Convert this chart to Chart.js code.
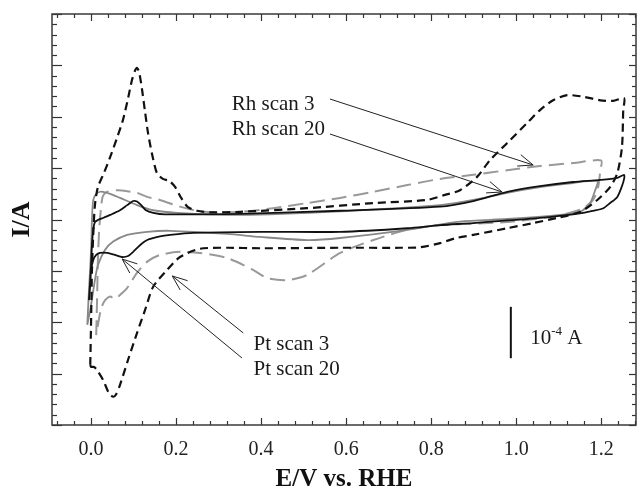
<!DOCTYPE html>
<html><head><meta charset="utf-8">
<script src="https://cdn.jsdelivr.net/npm/chart.js@4/dist/chart.umd.min.js"></script>
<style>html,body{margin:0;padding:0;background:#fff;}#wrap{width:638px;height:492px;}</style>
</head><body><div id="wrap"><canvas id="c" width="638" height="492"></canvas></div>
<script>
// E / V vs. RHE, I in units of 1e-4 A
const ptScan3 = [[-0.002,-2.83],[0.000,-1.96],[0.002,-0.98],[0.005,-0.30],[0.009,0.28],[0.016,0.63],[0.031,0.92],[0.045,1.22],[0.061,1.59],[0.075,1.94],[0.087,2.36],[0.096,2.71],[0.104,2.91],[0.108,2.95],[0.113,2.87],[0.120,2.52],[0.127,2.09],[0.134,1.68],[0.144,1.25],[0.155,0.90],[0.169,0.79],[0.184,0.75],[0.198,0.63],[0.212,0.42],[0.228,0.24],[0.249,0.17],[0.28,0.14],[0.351,0.15],[0.508,0.22],[0.664,0.32],[0.79,0.38],[0.833,0.48],[0.868,0.57],[0.908,0.83],[0.939,1.16],[0.979,1.49],[1.026,1.88],[1.056,2.13],[1.087,2.32],[1.12,2.42],[1.158,2.39],[1.198,2.32],[1.228,2.31],[1.254,2.36],[1.252,2.13],[1.249,1.41],[1.238,0.90],[1.221,0.63],[1.191,0.38],[1.151,0.15],[1.096,0.03],[1.04,-0.07],[0.979,-0.17],[0.899,-0.30],[0.859,-0.36],[0.821,-0.46],[0.774,-0.54],[0.727,-0.55],[0.586,-0.55],[0.398,-0.56],[0.32,-0.55],[0.256,-0.57],[0.209,-0.73],[0.179,-0.98],[0.146,-1.31],[0.127,-1.76],[0.108,-2.21],[0.087,-2.73],[0.068,-3.22],[0.059,-3.40],[0.052,-3.45],[0.042,-3.38],[0.028,-3.12],[0.014,-2.93],[0.007,-2.87],[0.000,-2.87],[-0.002,-2.83]];
const ptScan20 = [[-0.005,-1.57],[-0.002,-1.18],[0.000,-0.89],[0.002,-0.50],[0.005,-0.20],[0.009,-0.05],[0.016,-0.01],[0.028,0.03],[0.045,0.09],[0.068,0.18],[0.085,0.28],[0.099,0.36],[0.108,0.35],[0.118,0.28],[0.129,0.18],[0.146,0.13],[0.174,0.10],[0.351,0.11],[0.586,0.17],[0.821,0.25],[0.899,0.36],[0.979,0.54],[1.056,0.65],[1.134,0.73],[1.198,0.77],[1.238,0.81],[1.254,0.87],[1.254,0.79],[1.249,0.65],[1.238,0.44],[1.221,0.32],[1.205,0.22],[1.181,0.17],[1.158,0.13],[1.056,0.03],[0.899,-0.07],[0.821,-0.11],[0.744,-0.17],[0.586,-0.24],[0.398,-0.24],[0.24,-0.26],[0.186,-0.30],[0.162,-0.33],[0.132,-0.40],[0.115,-0.50],[0.099,-0.63],[0.087,-0.71],[0.073,-0.73],[0.056,-0.69],[0.038,-0.65],[0.021,-0.65],[0.012,-0.69],[0.005,-0.79],[0.000,-0.98],[-0.002,-1.27],[-0.005,-1.57]];
const rhScan3 = [[0.012,-2.25],[0.014,-1.57],[0.016,-0.79],[0.019,-0.20],[0.024,0.28],[0.028,0.46],[0.038,0.54],[0.064,0.57],[0.092,0.54],[0.108,0.52],[0.132,0.44],[0.162,0.38],[0.209,0.25],[0.264,0.15],[0.351,0.15],[0.428,0.22],[0.508,0.32],[0.586,0.42],[0.664,0.54],[0.744,0.67],[0.821,0.79],[0.899,0.87],[0.979,0.96],[1.056,1.04],[1.134,1.10],[1.2,1.15],[1.198,0.96],[1.193,0.63],[1.181,0.38],[1.158,0.22],[1.127,0.13],[1.08,0.05],[0.979,-0.05],[0.821,-0.11],[0.744,-0.20],[0.664,-0.40],[0.586,-0.65],[0.508,-1.08],[0.461,-1.18],[0.414,-1.14],[0.381,-0.98],[0.32,-0.75],[0.256,-0.65],[0.209,-0.63],[0.162,-0.69],[0.132,-0.82],[0.108,-1.04],[0.085,-1.33],[0.068,-1.47],[0.056,-1.55],[0.045,-1.50],[0.033,-1.57],[0.024,-1.72],[0.016,-2.05],[0.012,-2.25]];
const rhScan20 = [[-0.009,-2.05],[-0.005,-1.37],[0.000,-0.59],[0.002,-0.01],[0.005,0.38],[0.012,0.50],[0.021,0.54],[0.028,0.54],[0.045,0.50],[0.068,0.42],[0.108,0.28],[0.146,0.18],[0.202,0.13],[0.351,0.09],[0.586,0.16],[0.821,0.28],[0.899,0.38],[0.979,0.52],[1.056,0.63],[1.134,0.71],[1.191,0.75],[1.186,0.57],[1.174,0.32],[1.151,0.15],[1.104,0.09],[0.979,0.01],[0.868,-0.04],[0.744,-0.20],[0.586,-0.36],[0.508,-0.40],[0.398,-0.34],[0.32,-0.28],[0.186,-0.22],[0.132,-0.24],[0.085,-0.30],[0.052,-0.43],[0.033,-0.59],[0.016,-0.89],[0.009,-1.18],[-0.002,-1.76],[-0.009,-2.05]];
const xTickValues = [0.0,0.2,0.4,0.6,0.8,1.0,1.2];
const xRange = [-0.092, 1.282];
const yRange = [-4, 4];

const SERIF = "'Liberation Serif','Times New Roman',serif";
const toXY = arr => arr.map(p => ({x:p[0], y:p[1]}));

// annotation placement in data coordinates
const notes = [
  {text:'Rh scan 3', x:0.331, y:2.13},
  {text:'Rh scan 20', x:0.331, y:1.645},
  {text:'Pt scan 3', x:0.382, y:-2.54},
  {text:'Pt scan 20', x:0.382, y:-3.027}
];
const arrows = [
  {from:[0.562,2.345], to:[1.04,1.061]},
  {from:[0.562,1.664], to:[0.967,0.535]},
  {from:[0.358,-2.209], to:[0.191,-1.10]},
  {from:[0.355,-2.696], to:[0.073,-0.769]}
];

const decor = {
  id:'decor',
  afterDatasetsDraw(chart){
    const {ctx, chartArea:a, scales:{x, y}} = chart;
    ctx.save();
    ctx.strokeStyle = '#333';
    ctx.lineWidth = 1.2;
    const seg = (x1,y1,x2,y2)=>{ctx.beginPath();ctx.moveTo(x1,y1);ctx.lineTo(x2,y2);ctx.stroke();};
    for (let k=-3; k<=33; k++){
      const v = k*0.04;
      if (v < xRange[0] || v > xRange[1]+1e-9) continue;
      const p = Math.round(x.getPixelForValue(v))+0.5;
      const L = (k%5===0) ? 7 : 4;
      seg(p, a.bottom, p, a.bottom-L);
      seg(p, a.top, p, a.top+L);
    }
    for (let k=-20; k<=20; k++){
      const v = k*0.2;
      const p = Math.round(y.getPixelForValue(v))+0.5;
      const major = (k%5===0);
      seg(a.left, p, a.left+(major?10:5), p);
      seg(a.right, p, a.right-(major?7:4), p);
    }
    ctx.lineWidth = 1.5;
    ctx.strokeStyle = '#3a3a3a';
    ctx.strokeRect(a.left, a.top, a.right-a.left, a.bottom-a.top);
    ctx.restore();
  },
  afterDraw(chart){
    const {ctx, scales:{x, y}} = chart;
    ctx.save();
    ctx.fillStyle = '#1a1a1a';
    ctx.font = '21px ' + SERIF;
    ctx.textBaseline = 'alphabetic';
    ctx.textAlign = 'left';
    notes.forEach(n => ctx.fillText(n.text, x.getPixelForValue(n.x), y.getPixelForValue(n.y)));
    ctx.strokeStyle = '#222';
    ctx.lineWidth = 1;
    arrows.forEach(ar => {
      const x1 = x.getPixelForValue(ar.from[0]), y1 = y.getPixelForValue(ar.from[1]);
      const x2 = x.getPixelForValue(ar.to[0]), y2 = y.getPixelForValue(ar.to[1]);
      ctx.beginPath(); ctx.moveTo(x1,y1); ctx.lineTo(x2,y2); ctx.stroke();
      const ang = Math.atan2(y2-y1, x2-x1), L = 16, h = 0.38;
      ctx.beginPath();
      ctx.moveTo(x2 - L*Math.cos(ang-h), y2 - L*Math.sin(ang-h));
      ctx.lineTo(x2, y2);
      ctx.lineTo(x2 - L*Math.cos(ang+h), y2 - L*Math.sin(ang+h));
      ctx.stroke();
    });
    // scale bar: one unit = 1e-4 A
    const bx = x.getPixelForValue(0.9875);
    ctx.lineWidth = 2;
    ctx.strokeStyle = '#111';
    ctx.beginPath(); ctx.moveTo(bx, y.getPixelForValue(-1.7)); ctx.lineTo(bx, y.getPixelForValue(-2.7)); ctx.stroke();
    const tx = x.getPixelForValue(1.033), ty = y.getPixelForValue(-2.42);
    ctx.font = '21px ' + SERIF;
    ctx.fillText('10', tx, ty);
    const w10 = ctx.measureText('10').width;
    ctx.font = '13px ' + SERIF;
    ctx.fillText('-4', tx + w10, ty - 9);
    const w4 = ctx.measureText('-4').width;
    ctx.font = '21px ' + SERIF;
    ctx.fillText(' A', tx + w10 + w4, ty);
    ctx.restore();
  }
};

new Chart(document.getElementById('c'), {
  type:'scatter',
  data:{ datasets:[
    {label:'Pt scan 20', data:toXY(ptScan20), borderColor:'#111', borderWidth:1.8},
    {label:'Pt scan 3', data:toXY(ptScan3), borderColor:'#111', borderWidth:2.2, borderDash:[8,5]},
    {label:'Rh scan 20', data:toXY(rhScan20), borderColor:'#888', borderWidth:1.8},
    {label:'Rh scan 3', data:toXY(rhScan3), borderColor:'#999', borderWidth:2, borderDash:[15,7]}
  ].map(d => Object.assign({showLine:true, pointRadius:0, pointHoverRadius:0, tension:0.25, fill:false}, d))},
  options:{
    responsive:false, animation:false, devicePixelRatio:1,
    layout:{padding:{top:14, right:2, left:0, bottom:0}},
    plugins:{legend:{display:false}, tooltip:{enabled:false}},
    scales:{
      x:{type:'linear', position:'bottom', min:xRange[0], max:xRange[1],
        afterBuildTicks: s => { s.ticks = xTickValues.map(v => ({value:v})); },
        afterFit: s => { s.height = 67; },
        grid:{display:false, drawTicks:false}, border:{display:false},
        ticks:{padding:13, color:'#222', font:{family:SERIF, size:20}, callback:v => v.toFixed(1), maxRotation:0, autoSkip:false},
        title:{display:true, text:'E/V vs. RHE', color:'#111', font:{family:SERIF, size:25, weight:'bold', lineHeight:1}, padding:{top:0,bottom:0}}
      },
      y:{type:'linear', position:'left', min:yRange[0], max:yRange[1],
        afterFit: s => { s.width = 52; },
        grid:{display:false, drawTicks:false}, border:{display:false},
        ticks:{display:false},
        title:{display:true, text:'I/A', color:'#111', font:{family:SERIF, size:26, weight:'bold', lineHeight:1}, padding:{top:9,bottom:0}}
      }
    }
  },
  plugins:[decor]
});
</script></body></html>
